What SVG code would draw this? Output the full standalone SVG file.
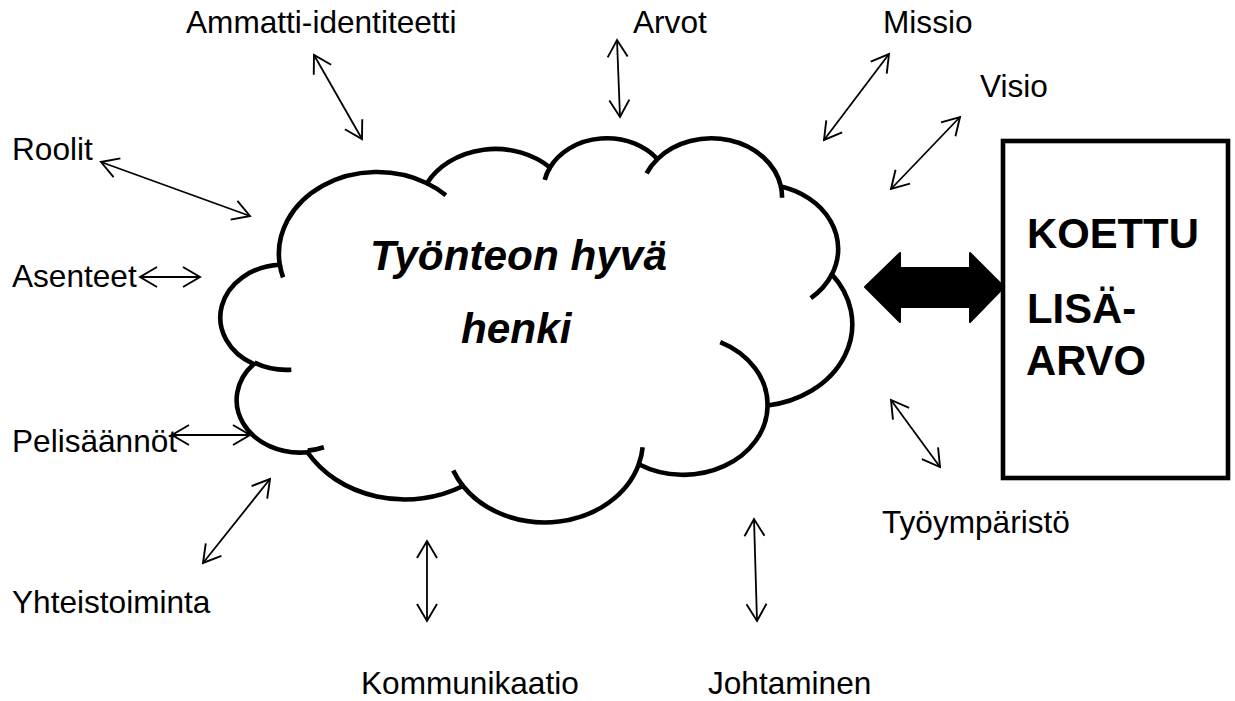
<svg xmlns="http://www.w3.org/2000/svg" width="1235" height="701" viewBox="0 0 1235 701">
  <style>
    .lbl { font-family: "Liberation Sans", Arial, sans-serif; font-size: 31.6px; fill: #000; }
    .big { font-family: "Liberation Sans", Arial, sans-serif; font-size: 41.8px; font-weight: bold; fill: #000; }
    .core { font-family: "Liberation Sans", Arial, sans-serif; font-size: 42.3px; font-weight: bold; font-style: italic; fill: #000; }
    .link { stroke: #000; stroke-width: 1.8; fill: none; marker-start: url(#head); marker-end: url(#head); }
    .cloud { fill: #fff; stroke: #000; stroke-width: 4.6; }
    .seam { fill: none; stroke: #000; stroke-width: 4.6; stroke-linecap: butt; }
  </style>
  <defs>
    <marker id="head" viewBox="-20 -12 22 24" refX="0" refY="0" markerWidth="22" markerHeight="24" markerUnits="userSpaceOnUse" orient="auto-start-reverse">
      <path d="M -17 -10 L 0 0 L -17 10" fill="none" stroke="#000" stroke-width="1.9"/>
    </marker>
  </defs>
  <rect width="1235" height="701" fill="#fff"/>

  <!-- central cloud -->
  <g id="cloud">
    <path class="cloud" d="M 279.78 264.73
      A 98.33 81.69 0 0 1 426.91 183.24
      A 77.65 64.60 0 0 1 549.96 167.51
      A 63.56 52.84 0 0 1 657.37 159.05
      A 70.72 58.62 0 0 1 780.92 186.56
      A 77.65 64.65 0 0 1 831.88 274.42
      A 98.65 81.96 0 0 1 767.61 405.47
      A 84.23 69.93 0 0 1 638.79 464.23
      A 98.31 81.91 0 0 1 462.96 486.01
      A 112.40 93.72 0 0 1 307.52 452.29
      A 63.48 52.60 0 0 1 253.77 364.09
      A 63.26 52.84 0 0 1 279.78 264.73 Z"/>
    <path class="seam" d="M 291.33 369.68 A 63.26 52.84 0 0 1 254.45 362.60
      M 323.87 447.21 A 63.48 52.60 0 0 1 307.74 450.61
      M 462.96 486.01 A 98.31 81.91 0 0 1 453.24 470.54
      M 642.66 447.26 A 98.31 81.91 0 0 1 638.79 464.23
      M 720.27 342.04 A 84.23 69.93 0 0 1 767.61 405.47
      M 831.88 274.42 A 77.65 64.65 0 0 1 810.80 298.20
      M 780.92 186.56 A 70.72 58.62 0 0 1 782.03 197.79
      M 646.57 173.37 A 70.72 58.62 0 0 1 657.37 159.05
      M 544.73 179.86 A 63.56 52.84 0 0 1 549.96 167.51
      M 426.91 183.24 A 98.33 81.69 0 0 1 445.84 195.23
      M 283.09 277.34 A 98.33 81.69 0 0 1 279.78 264.73"/>
    <text class="core" x="370" y="270">Työnteon hyvä</text>
    <text class="core" x="461" y="343">henki</text>
  </g>

  <!-- result box -->
  <g id="result">
    <rect x="1003" y="141" width="225" height="337" fill="#fff" stroke="#000" stroke-width="4.6"/>
    <text class="big" x="1027" y="248">KOETTU</text>
    <text class="big" x="1027" y="323">LISÄ-</text>
    <text class="big" x="1026" y="375">ARVO</text>
  </g>

  <!-- outer factors -->
  <g id="n-ammatti"><text class="lbl" x="186" y="33">Ammatti-identiteetti</text></g>
  <g id="n-arvot"><text class="lbl" x="633" y="33">Arvot</text></g>
  <g id="n-missio"><text class="lbl" x="883" y="33">Missio</text></g>
  <g id="n-visio"><text class="lbl" x="980" y="97">Visio</text></g>
  <g id="n-roolit"><text class="lbl" x="12" y="160">Roolit</text></g>
  <g id="n-asenteet"><text class="lbl" x="12" y="287">Asenteet</text></g>
  <g id="n-pelisaannot"><text class="lbl" x="12" y="452">Pelisäännöt</text></g>
  <g id="n-yhteistoiminta"><text class="lbl" x="12" y="613">Yhteistoiminta</text></g>
  <g id="n-kommunikaatio"><text class="lbl" x="361" y="694">Kommunikaatio</text></g>
  <g id="n-johtaminen"><text class="lbl" x="708" y="694">Johtaminen</text></g>
  <g id="n-tyoymparisto"><text class="lbl" x="882" y="533">Työympäristö</text></g>

  <!-- connectors -->
  <g id="connectors">
    <line class="link" x1="314" y1="55" x2="362" y2="139"/>
    <line class="link" x1="617" y1="40" x2="620" y2="117"/>
    <line class="link" x1="889" y1="54" x2="824" y2="140"/>
    <line class="link" x1="960" y1="117" x2="891" y2="189"/>
    <line class="link" x1="101" y1="162" x2="250" y2="216"/>
    <line class="link" x1="140" y1="277" x2="200" y2="277"/>
    <line class="link" x1="172" y1="435" x2="250" y2="435"/>
    <line class="link" x1="270" y1="479" x2="203" y2="563"/>
    <line class="link" x1="427" y1="541" x2="427" y2="621"/>
    <line class="link" x1="754" y1="519" x2="757" y2="621"/>
    <line class="link" x1="891" y1="400" x2="940" y2="467"/>
    <polygon points="865,287 900,253 900,268 970,268 970,253 1004,287 970,322 970,307 900,307 900,322" fill="#000" stroke="#000" stroke-width="2" stroke-linejoin="round"/>
  </g>
</svg>
